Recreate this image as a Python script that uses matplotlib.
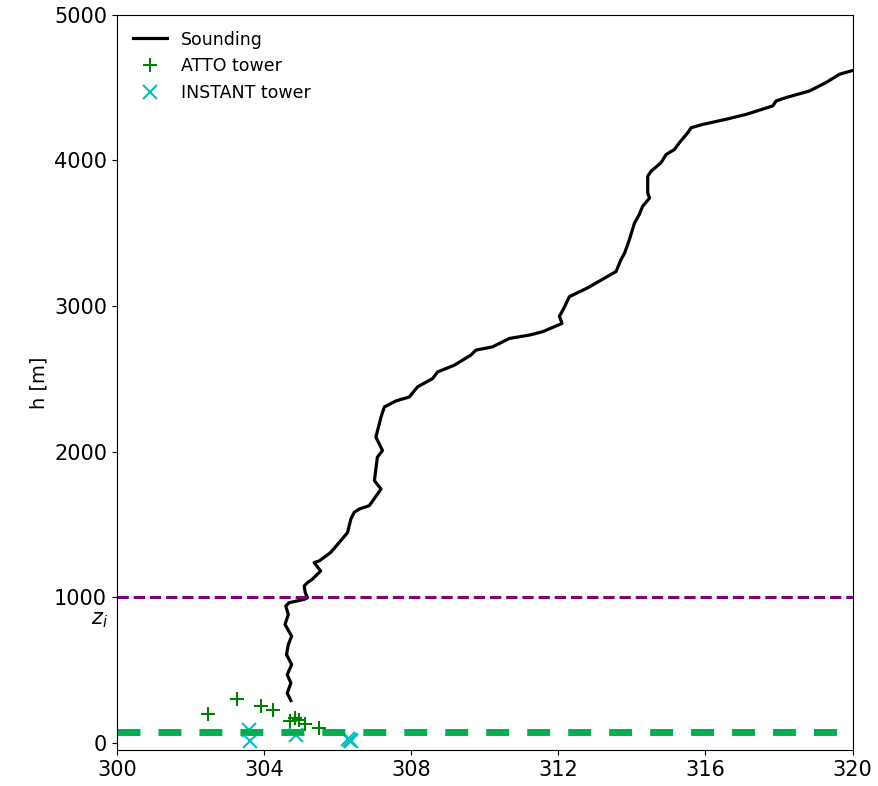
import matplotlib.pyplot as plt

# sounding profile: potential temperature (K) and height (m)
theta_snd = [304.73, 304.63, 304.73, 304.63, 304.75, 304.61, 304.66, 304.75, 304.57, 304.66,
             304.59, 304.68, 305.09, 305.18, 305.12, 305.09, 305.18, 305.31, 305.54, 305.36,
             305.50, 305.81, 306.08, 306.27, 306.36, 306.45, 306.59, 306.86, 307.18, 307.00,
             307.08, 307.22, 307.04, 307.18, 307.27, 307.58, 307.95, 308.17, 308.58, 308.72,
             309.17, 309.62, 309.76, 310.21, 310.67, 311.21, 311.57, 312.10, 312.03, 312.14,
             312.30, 312.80, 313.57, 313.70, 313.80, 313.93, 314.07, 314.20, 314.29, 314.48,
             314.43, 314.43, 314.52, 314.79, 314.93, 315.16, 315.29, 315.52, 315.61, 315.93,
             316.56, 317.11, 317.83, 317.92, 318.19, 318.83, 319.01, 319.28, 319.65, 319.97,
             320.30]
h_snd = [288, 340, 409, 467, 536, 605, 674, 731, 812, 880,
         938, 961, 984, 995, 1030, 1076, 1099, 1122, 1179, 1237,
         1248, 1306, 1386, 1443, 1536, 1582, 1605, 1628, 1742, 1800,
         1961, 2007, 2099, 2237, 2306, 2347, 2375, 2444, 2501, 2547,
         2593, 2662, 2697, 2719, 2777, 2800, 2823, 2880, 2930, 2980,
         3064, 3125, 3237, 3317, 3363, 3455, 3570, 3628, 3685, 3742,
         3777, 3892, 3926, 3984, 4041, 4076, 4122, 4191, 4225, 4248,
         4283, 4317, 4375, 4409, 4432, 4478, 4501, 4536, 4593, 4616,
         4630]

# ATTO tower
theta_atto = [302.48, 303.27, 303.91, 304.23, 304.71, 304.84, 304.94, 305.11, 305.50]
h_atto = [195, 299, 248, 221, 150, 172, 152, 126, 99]

# INSTANT tower
theta_inst = [303.59, 303.61, 304.86, 306.27, 306.33, 306.36]
h_inst = [87, 12, 53, 23, 18, 12]

zi = 1000
h_low = 70

fig = plt.figure(figsize=(8.79, 7.86), dpi=100)
ax = fig.add_axes([0.133, 0.046, 0.837, 0.935])

ax.plot(theta_snd, h_snd, color='black', lw=2.3, label='Sounding')
ax.plot(theta_atto, h_atto, '+', color='green', ms=10, mew=1.5, label='ATTO tower')
ax.plot(theta_inst, h_inst, 'x', color='c', ms=10, mew=1.5, label='INSTANT tower')
ax.axhline(zi, color='purple', ls='--', lw=2.2)
ax.axhline(h_low, color='#00b050', ls=(0, (3.3, 2.6)), lw=5)
ax.text(299.75, 840, '$z_i$', ha='right', va='center', fontsize=15)

ax.set_xlim(300, 320)
ax.set_ylim(-50, 5000)
ax.set_xticks([300, 304, 308, 312, 316, 320])
ax.set_yticks([0, 1000, 2000, 3000, 4000, 5000])
ax.tick_params(labelsize=15)
ax.set_ylabel('h [m]', fontsize=14)
ax.legend(loc='upper left', frameon=False, fontsize=12.5)

fig.savefig('out.png', dpi=100)
